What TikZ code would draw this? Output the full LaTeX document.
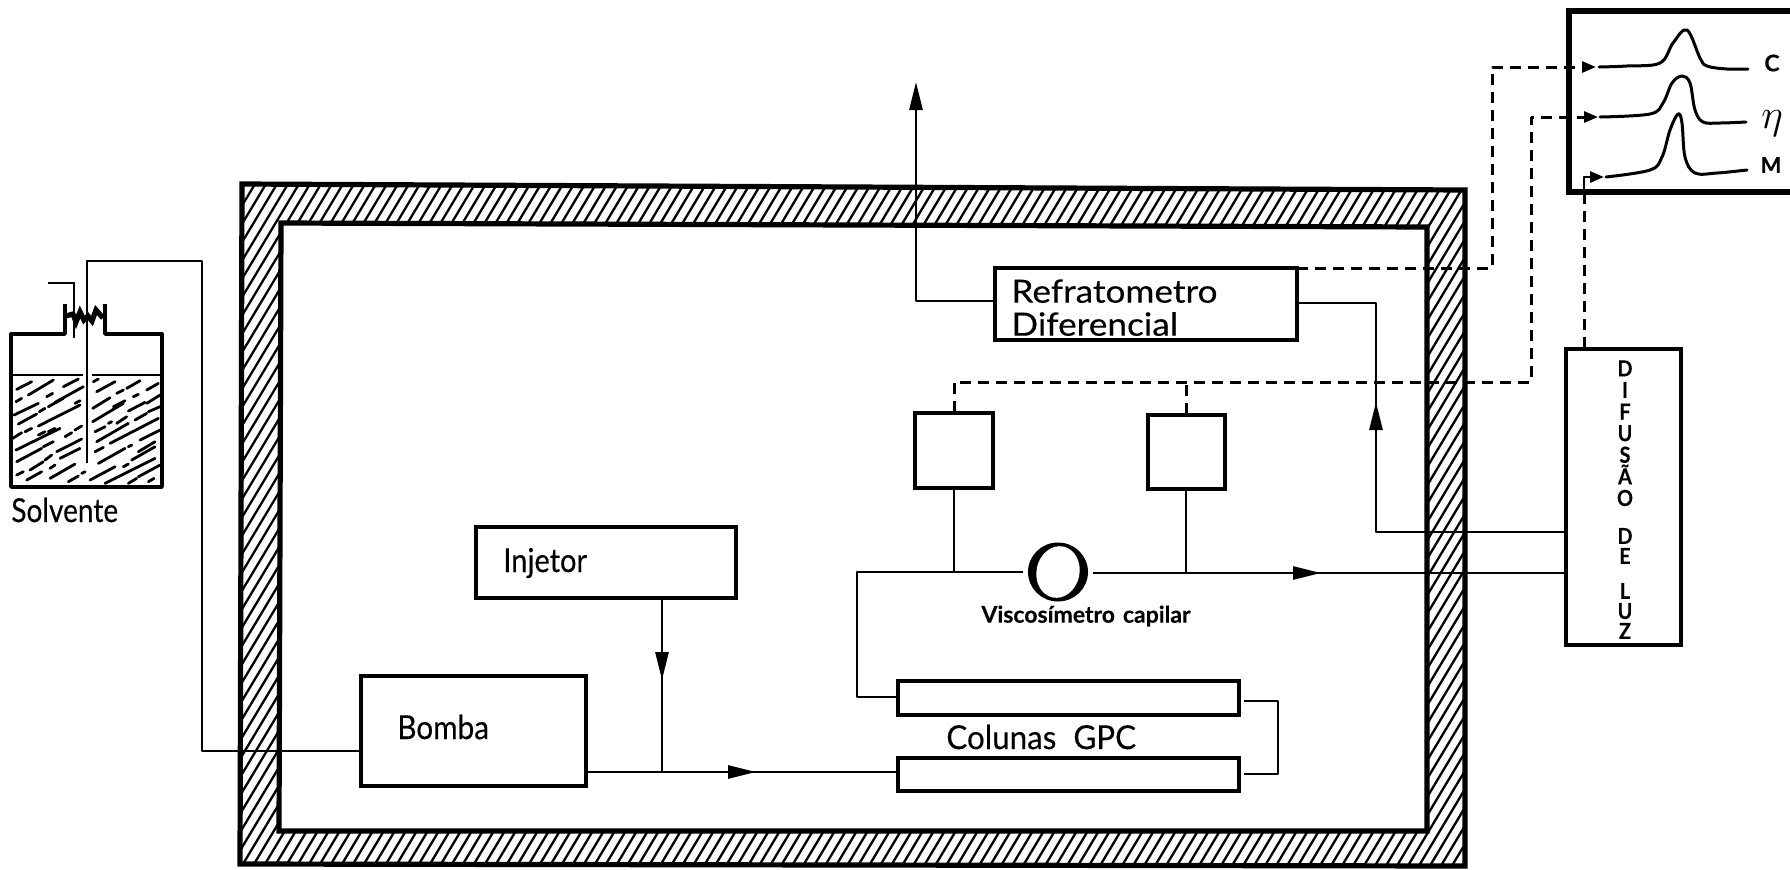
\documentclass[tikz,border=0pt]{standalone}
\usepackage{fontspec}
\setmainfont{Lato}[FakeBold=0.25]
\usetikzlibrary{arrows.meta,shapes.geometric}
\tikzset{
  unit/.style={draw,line width=2.3pt,inner sep=0pt,outer sep=0pt,anchor=north west,fill=white},
  wire/.style={line width=1.4pt,line join=round},
  dwire/.style={line width=1.5pt,dash pattern=on 5.5pt off 3.5pt,line join=round},
  tipR/.style={-{Triangle[length=14pt,width=6.5pt]}},
  tipS/.style={-{Triangle[length=7pt,width=5.5pt]}},
  lab/.style={inner sep=0pt,font=\fontsize{16.5}{18}\selectfont},
  sx/.style={xscale=#1,transform shape},
  trace/.style={line width=1.5pt,line join=round,line cap=round},
}
\begin{document}
\begin{tikzpicture}[x=0.5pt,y=-0.5pt]
\useasboundingbox[fill=white] (0,0) rectangle (1790,869);
% oven wall
\begin{scope}
\clip (242,184) -- (1465,190) -- (1465,866) -- (240,864) -- cycle;
\foreach \k in {0,...,160} {
  \draw[line width=1.15pt] ({-200+\k*11},869) -- ++(420,-700);
}
\end{scope}
\draw[line width=2.6pt,line join=miter] (242,184) -- (1465,190) -- (1465,866) -- (240,864) -- cycle;
\draw[line width=2.6pt,fill=white] (281,223) -- (1427,227) -- (1427,831) -- (279,831) -- cycle;
% boxes
\node[unit,minimum width=151pt,minimum height=36pt] (refr) at (995,268) {};
\node[lab,align=left,anchor=north west,sx=1.1,font=\fontsize{16}{16.5}\selectfont] (refrt) at (1011,279) {Refratometro\\Diferencial};
\node[unit,minimum width=39pt,minimum height=37.5pt] (sqa) at (915,413) {};
\node[unit,minimum width=38.5pt,minimum height=37pt] (sqb) at (1148,415) {};
\node[unit,minimum width=130pt,minimum height=35.5pt] (inj) at (476,527) {};
\node[lab,anchor=west,sx=0.88] (injt) at (503,563) {Injetor};
\node[unit,minimum width=112.5pt,minimum height=55pt] (bomba) at (361,676) {};
\node[lab,anchor=west,sx=0.9] (bombat) at (397,727) {Bomba};
\node[unit,minimum width=170.5pt,minimum height=17pt] (cola) at (898,681) {};
\node[unit,minimum width=170.5pt,minimum height=16.5pt] (colb) at (898,758) {};
\node[lab,anchor=west,sx=0.95] (colt) at (946,737) {Colunas\hspace{9pt}GPC};
\node[unit,minimum width=57.5pt,minimum height=148pt] (dif) at (1566,349) {};
\node[lab,align=center,anchor=north,sx=0.9,font=\fontsize{11}{10.8}\selectfont\bfseries] (dift) at (1625,360)
  {D\\I\\F\\U\\S\\Ã\\O\\[8.2pt]D\\[-0.8pt]E\\[6.7pt]L\\[-0.8pt]U\\[-0.8pt]Z};
% viscometer
\node[ellipse,fill=black,minimum width=30pt,minimum height=29.5pt,inner sep=0pt] (visc) at (1058,572) {};
\node[ellipse,fill=white,minimum width=21.5pt,minimum height=26pt,inner sep=0pt,rotate=-12] (visci) at (1058,572) {};
\node[lab,anchor=center,font=\fontsize{11.5}{12}\selectfont\bfseries] (visct) at (1086,616) {Viscosímetro\hspace{4pt}capilar};
% recorder
\coordinate (rtl) at (1790,11);
\coordinate (rbl) at (1790,192);
\draw[line width=2.6pt] (rtl) -- (1569,11) -- (1569,192) -- (rbl);
\coordinate (tc) at (1596,67);
\coordinate (te) at (1598,117);
\coordinate (tm) at (1604,177);
\node[lab,font=\fontsize{11.5}{12}\selectfont\bfseries] (lc) at (1772,63) {C};
\node[lab,font=\fontsize{22}{22}\selectfont] (le) at (1772,124) {$\eta$};
\node[lab,font=\fontsize{11}{12}\selectfont\bfseries] (lm) at (1771,165) {M};
\draw[trace] plot[smooth,tension=0.6] coordinates {(1599,67) (1627,66) (1660,63) (1673,43) (1687,30) (1700,58) (1707,66) (1727,69) (1748,69)};
\draw[trace] plot[smooth,tension=0.6] coordinates {(1600,117) (1650,114) (1663,103) (1672,83) (1682,76) (1690,83) (1695,110) (1703,122) (1720,123) (1746,122)};
\draw[trace] plot[smooth,tension=0.6] coordinates {(1606,177) (1650,170) (1662,157) (1670,130) (1678,114) (1682,123) (1685,157) (1695,173) (1717,173) (1747,170)};
% solid connectors
\coordinate (topend) at (916,82);
\coordinate (uparrow) at (1376,402);
\coordinate (jn) at (662,772);
\coordinate (sqaj) at (954,572);
\coordinate (sqbj) at (1186,573);
\coordinate (corner) at (857,572);
\draw[wire,tipR] (refr.west |- 0,301) -| (topend);
\draw[wire] (refr.east |- 0,303) -| (uparrow);
\draw[wire] (uparrow) |- (dif.west |- 0,532);
\draw[wire,tipR] (1376,440) -- (uparrow);
\draw[wire] (bomba.east |- jn) -- (jn) -- (colb.west |- jn);
\draw[wire,tipR] (700,772) -- (756,772);
\draw[wire] (inj.south -| jn) -- (jn);
\draw[wire,tipR] (662,630) -- (662,680);
\draw[wire] (cola.west |- 0,697) -| (corner) -- (sqaj) -- (1023,572);
\draw[wire] (sqa.south -| sqaj) -- (sqaj);
\draw[wire] (1093,573) -- (sqbj) -- (dif.west |- sqbj);
\draw[wire,tipR] (1260,573) -- (1321,573);
\draw[wire] (sqb.south -| sqbj) -- (sqbj);
\draw[wire] (1244,701) -- (1278,701) -- (1278,774) -- (1244,774);
\draw[wire] (bomba.west |- 0,751) -| (202,261) -| (87,463);
% dashed connectors
\draw[dwire] (refr.east |- 0,268) -| (1492,67) -- (1584,67);
\draw[wire,tipS] (1584,67) -- (tc);
\draw[dwire] (954,412) |- (1531,382) -- (1531,117) -- (1586,117);
\draw[dwire] (1186,414) -- (1186,382);
\draw[wire,tipS] (1586,117) -- (te);
\draw[dwire] (1584,348) -- (1584,190);
\draw[wire,tipS] (1584,190) |- (tm);
% solvent bottle
\draw[line width=1.7pt,line join=round] (65,304) -- (65,334) -- (11,334) -- (11,487) -- (162,487) -- (162,334) -- (105,334) -- (105,304);
\draw[line width=1.3pt] (11,375) -- (83,375);
\draw[line width=1.3pt] (92,375) -- (162,375);
\draw[line width=1.3pt] (48,283) -- (74,283) -- (74,338);
\draw[line width=2.6pt] (66,316) -- (73,314) -- (76,322) -- (80,312) -- (84,320) -- (88,316) -- (92,321) -- (96,310) -- (103,318);
\begin{scope}[x=0.1667pt,y=-0.1667pt,line width=1.4pt,line cap=round,shift={(0pt,-120pt)}]
\foreach \a/\b/\c/\d in {
50/448/95/425,85/465/160/420,190/440/235/417,48/485/65/475,140/470/158/460,165/487/250/440,
42/525/115/490,118/515/135/505,145/500/190/475,225/490/240/482,55/552/110/522,115/558/240/495,
38/595/65/578,75/575/95/565,115/585/135/575,145/575/165/565,195/590/215/578,225/570/245/558,
48/630/180/565,170/635/245/597,50/665/125/625,130/620/160/605,50/705/70/695,90/690/130/665,
135/660/155/645,180/655/240/625,80/720/125/695,150/685/165/675,150/715/225/672,205/725/235/708,
245/700/255/695,280/425/295/417,290/455/345/425,350/460/370/450,380/445/420/422,440/450/475/430,
278/505/330/473,340/500/375/482,385/513/435/487,400/470/415/463,440/490/480/465,278/545/370/490,
285/575/315/560,325/550/335/545,350/550/380/530,405/540/440/520,445/515/480/500,290/605/385/550,
330/610/475/535,420/600/480/570,285/635/310/622,385/620/395/615,295/670/375/625,415/635/465/605,
270/720/345/680,370/680/385/672,395/660/465/620,345/715/465/655,315/730/345/715,385/730/410/715,
415/710/480/675,445/725/462/715}
  \draw (\a,\b) -- (\c,\d);
\end{scope}
\node[lab,anchor=west,sx=0.85] (solv) at (11,510) {Solvente};
\end{tikzpicture}
\end{document}
